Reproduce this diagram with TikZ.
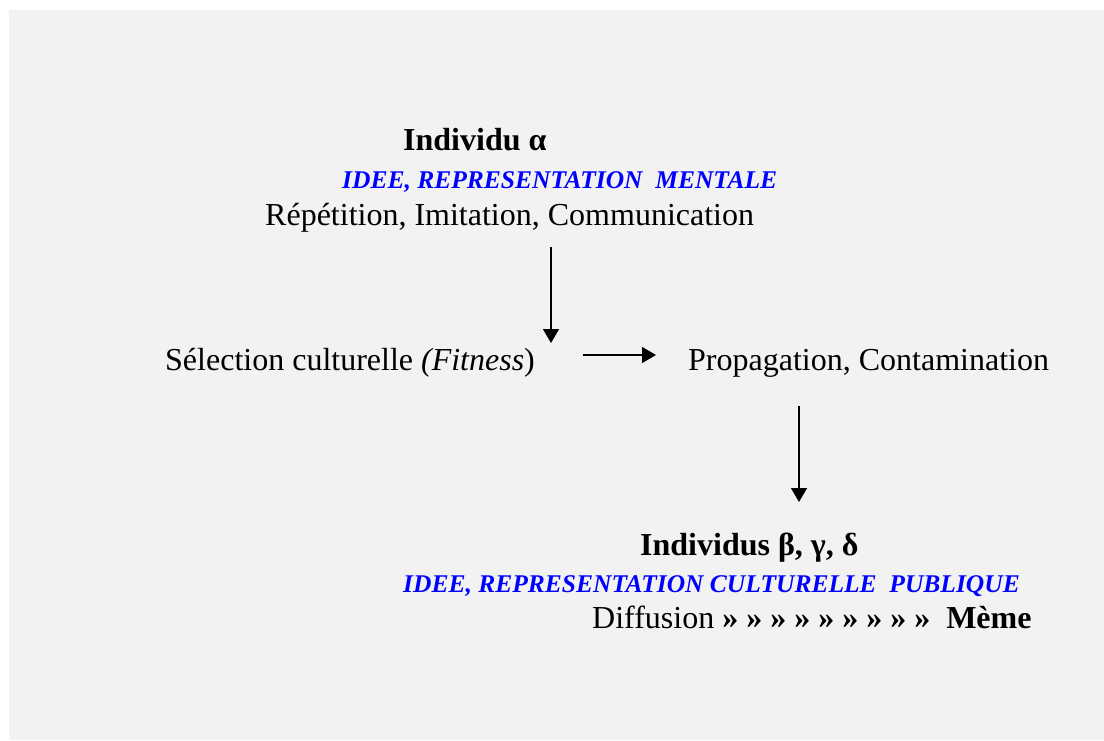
\documentclass[tikz,border=0pt]{standalone}
\usepackage{fontspec}
\setmainfont{Liberation Serif}
\usepackage{xcolor}
\usetikzlibrary{arrows.meta}
\definecolor{paper}{HTML}{F2F2F2}
\definecolor{ideeblue}{HTML}{0000FF}
\tikzset{
  txt/.style={anchor=base west, inner sep=0pt, font=\fontsize{32}{38}\selectfont},
  idee/.style={txt, text=ideeblue, font=\fontsize{25.5}{30}\selectfont\bfseries\itshape},
  flow/.style={line width=1.4pt, -{Triangle[length=14pt,width=16pt]}}
}

\begin{document}
\begin{tikzpicture}[x=1pt,y=-1pt]
\useasboundingbox (0,0) rectangle (1104,740);
\fill[paper] (9,10) rectangle (1104,740);

\node[txt, font=\fontsize{32}{38}\selectfont\bfseries] (indalpha) at (403,150) {Individu α};
\node[idee] (ideementale) at (342,188) {IDEE, REPRESENTATION\ \ MENTALE};
\node[txt] (repet) at (265,225) {Répétition, Imitation, Communication};

\node[txt] (selection) at (165,370) {Sélection culturelle \textit{(Fitness})};
\node[txt] (propag) at (688,370) {Propagation, Contamination};

\node[txt, font=\fontsize{32}{38}\selectfont\bfseries] (indbeta) at (640,555) {Individus β, γ, δ};
\node[idee] (ideepublique) at (403,592) {IDEE, REPRESENTATION CULTURELLE\ \ PUBLIQUE};
\node[txt] (diffusion) at (592,628) {Diffusion \textbf{» » » » » » » » »}\ \ \textbf{Mème}};

% arrows
\coordinate (a1) at (551,247);
\coordinate (b1) at (551,343);
\coordinate (a2) at (583,355);
\coordinate (b2) at (656,355);
\coordinate (a3) at (799,406);
\coordinate (b3) at (799,502);
\draw[flow] (a1) -- (b1);
\draw[flow] (a2) -- (b2);
\draw[flow] (a3) -- (b3);

\end{tikzpicture}
\end{document}
